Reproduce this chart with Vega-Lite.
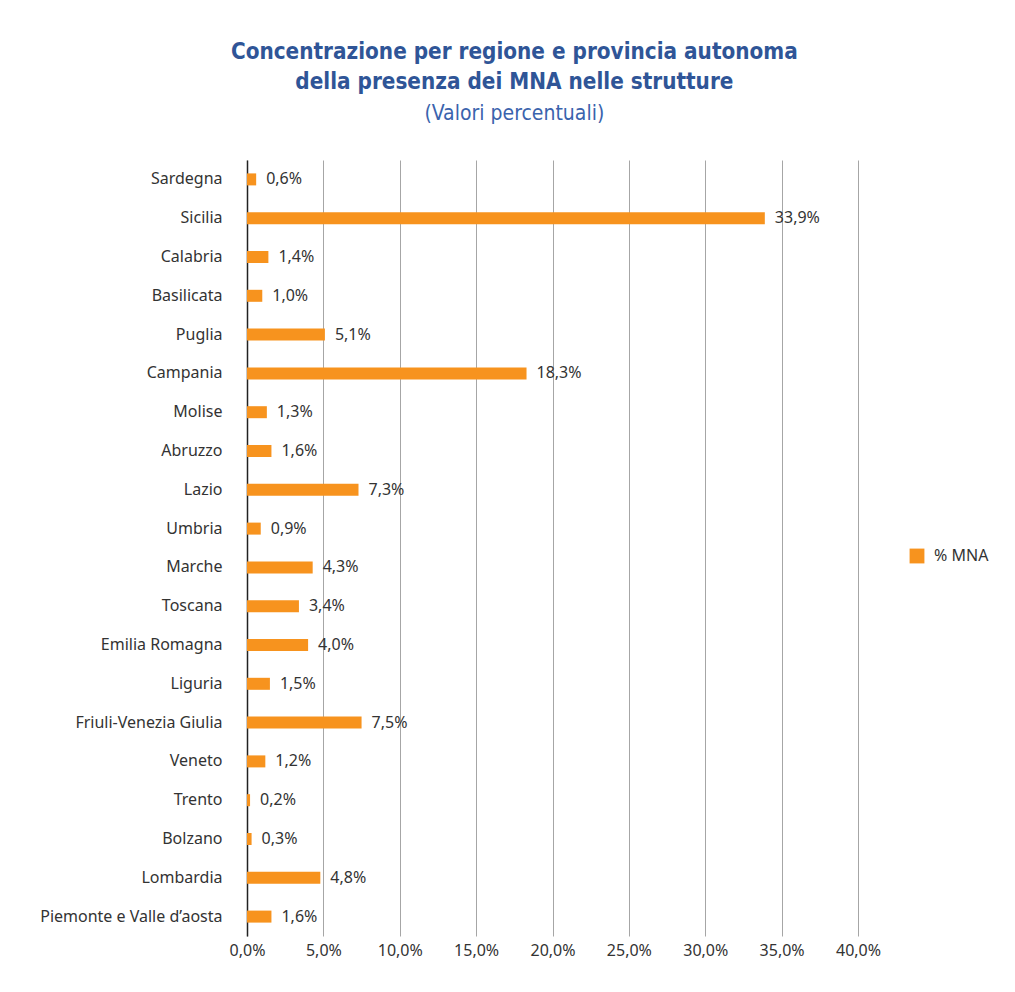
{
  "$schema": "https://vega.github.io/schema/vega-lite/v6.json",
  "width": 611,
  "height": 776,
  "autosize": {"type": "none"},
  "padding": {"left": 247, "top": 160, "right": 157, "bottom": 56},
  "background": "white",
  "config": {
    "locale": {"number": {"decimal": ",", "thousands": ".", "grouping": [3], "currency": ["€", ""]}},
    "view": {"stroke": null},
    "font": "Noto Sans"
  },
  "title": {
    "text": ["Concentrazione per regione e provincia autonoma", "della presenza dei MNA nelle strutture"],
    "subtitle": "(Valori percentuali)",
    "anchor": "middle",
    "frame": "bounds",
    "font": "DejaVu Sans Condensed",
    "fontSize": 22.3,
    "fontWeight": "bold",
    "color": "#2f5597",
    "lineHeight": 30,
    "subtitleFont": "DejaVu Sans Condensed",
    "subtitleFontSize": 21,
    "subtitleFontWeight": "normal",
    "subtitleColor": "#3a63ad",
    "subtitlePadding": 10,
    "offset": 36
  },
  "data": {
    "values": [
      {"regione": "Sardegna", "valore": 0.006},
      {"regione": "Sicilia", "valore": 0.339},
      {"regione": "Calabria", "valore": 0.014},
      {"regione": "Basilicata", "valore": 0.010},
      {"regione": "Puglia", "valore": 0.051},
      {"regione": "Campania", "valore": 0.183},
      {"regione": "Molise", "valore": 0.013},
      {"regione": "Abruzzo", "valore": 0.016},
      {"regione": "Lazio", "valore": 0.073},
      {"regione": "Umbria", "valore": 0.009},
      {"regione": "Marche", "valore": 0.043},
      {"regione": "Toscana", "valore": 0.034},
      {"regione": "Emilia Romagna", "valore": 0.040},
      {"regione": "Liguria", "valore": 0.015},
      {"regione": "Friuli-Venezia Giulia", "valore": 0.075},
      {"regione": "Veneto", "valore": 0.012},
      {"regione": "Trento", "valore": 0.002},
      {"regione": "Bolzano", "valore": 0.003},
      {"regione": "Lombardia", "valore": 0.048},
      {"regione": "Piemonte e Valle d’aosta", "valore": 0.016}
    ]
  },
  "encoding": {
    "y": {
      "field": "regione",
      "type": "nominal",
      "sort": null,
      "title": null,
      "axis": {
        "ticks": false,
        "labelPadding": 25,
        "labelLimit": 0,
        "labelFontSize": 16,
        "labelColor": "#333333",
        "labelFont": "Noto Sans",
        "domainColor": "#222222",
        "domainWidth": 1.5
      }
    },
    "x": {
      "field": "valore",
      "type": "quantitative",
      "scale": {"domain": [0, 0.4], "nice": false},
      "title": null,
      "axis": {
        "values": [0, 0.05, 0.1, 0.15, 0.2, 0.25, 0.3, 0.35, 0.4],
        "format": ".1%",
        "domain": false,
        "ticks": false,
        "labelFlush": false,
        "labelOverlap": false,
        "labelPadding": 6,
        "labelFontSize": 16,
        "labelColor": "#333333",
        "labelFont": "Noto Sans",
        "gridColor": "#a6a6a6",
        "gridWidth": 1
      }
    }
  },
  "layer": [
    {
      "mark": {"type": "bar", "size": 12},
      "encoding": {
        "color": {
          "datum": "% MNA",
          "scale": {"range": ["#f7931e"]},
          "legend": {
            "title": null,
            "orient": "none",
            "legendX": 662,
            "legendY": 388,
            "symbolType": "square",
            "symbolSize": 220,
            "symbolStrokeWidth": 0,
            "labelFontSize": 16,
            "labelColor": "#333333",
            "labelFont": "Noto Sans",
            "labelOffset": 9
          }
        }
      }
    },
    {
      "mark": {"type": "text", "align": "left", "dx": 10, "fontSize": 16, "color": "#333333", "font": "Noto Sans"},
      "encoding": {
        "text": {"field": "valore", "type": "quantitative", "format": ".1%"}
      }
    }
  ]
}
